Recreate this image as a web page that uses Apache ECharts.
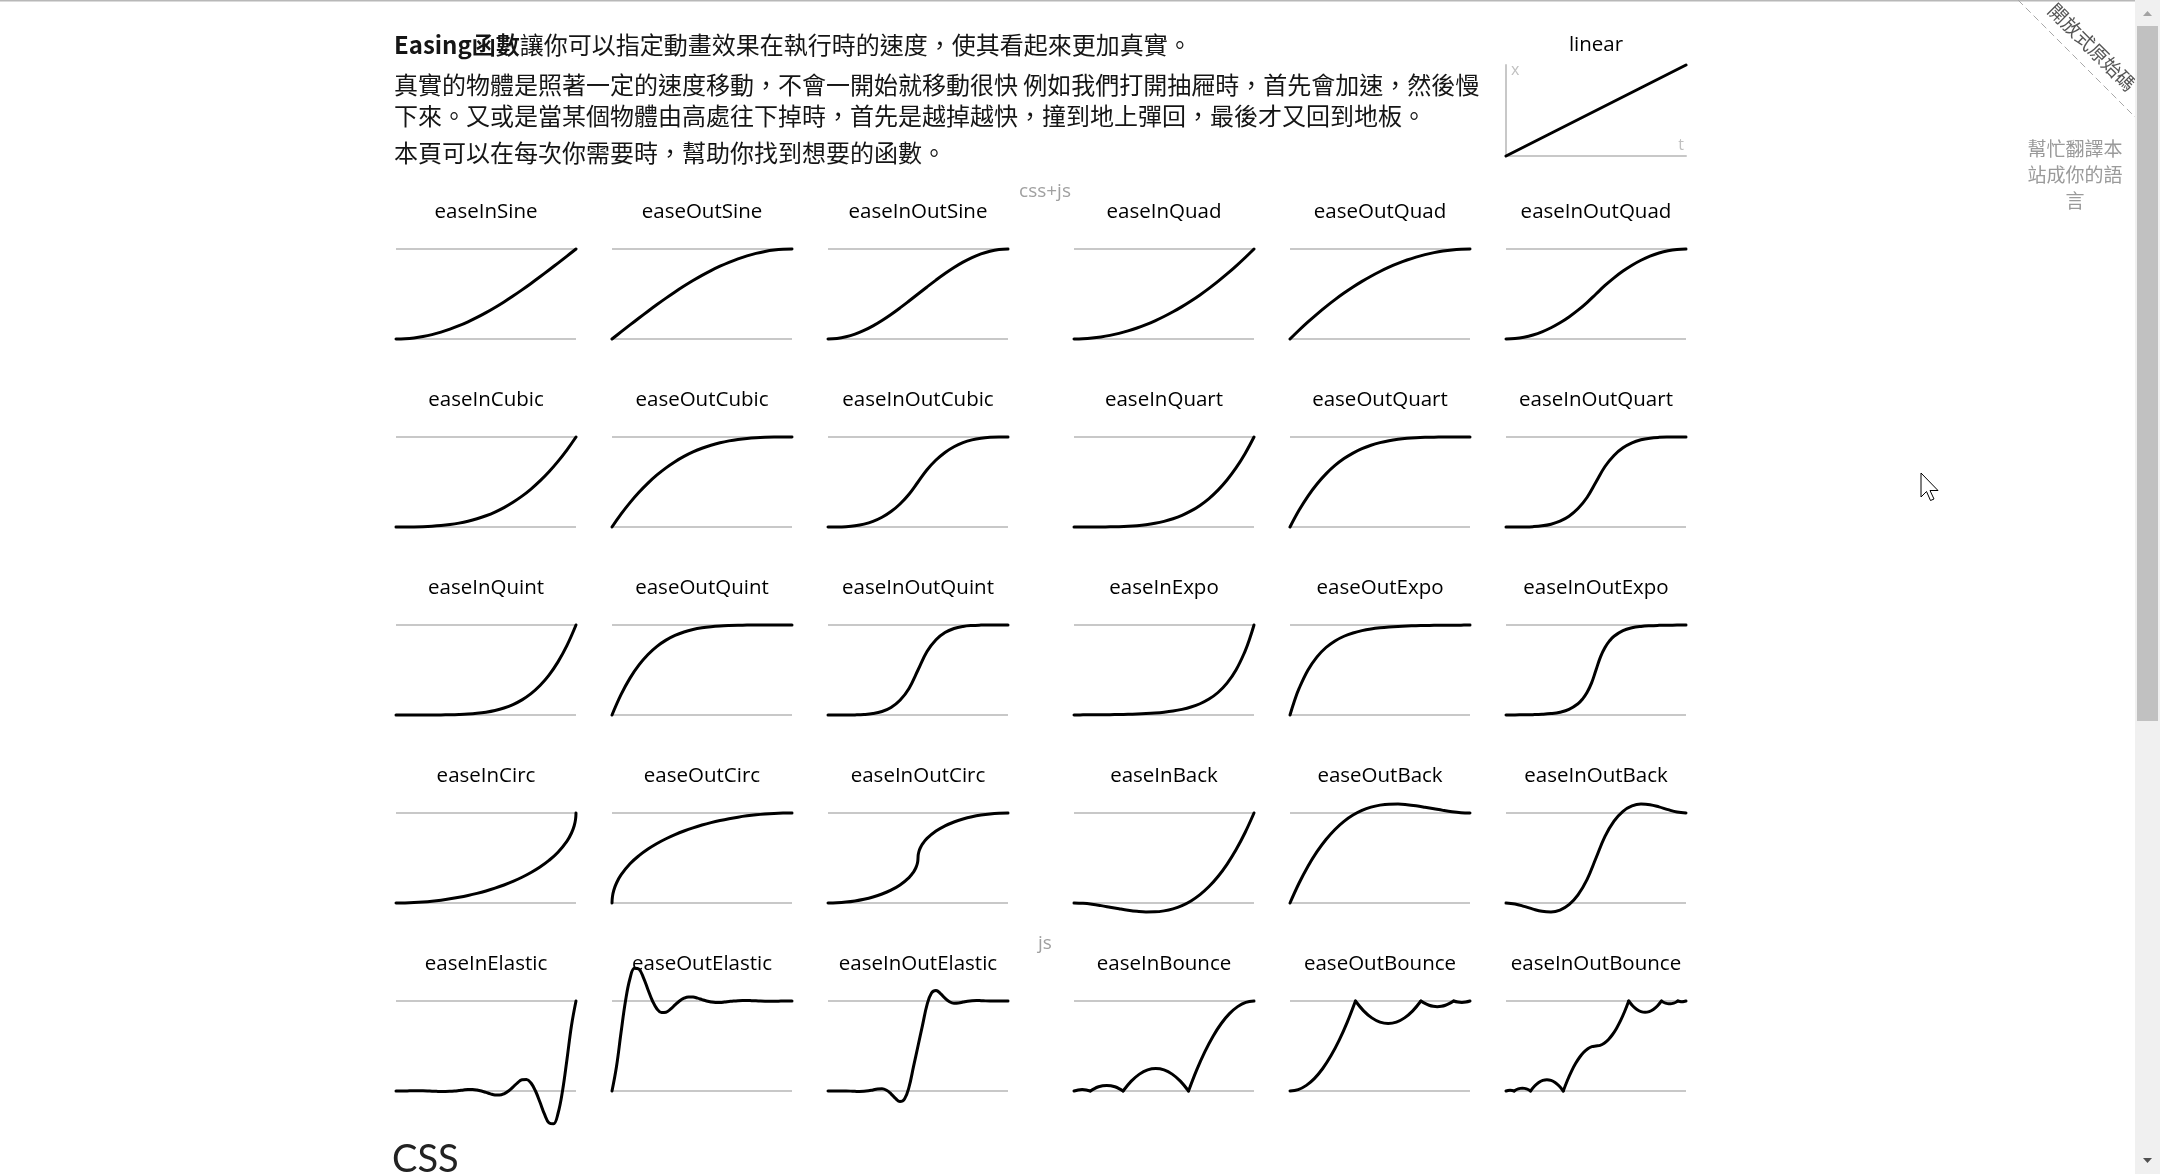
<!DOCTYPE html>
<html>
<head>
<meta charset="utf-8">
<script src="https://cdn.jsdelivr.net/npm/echarts@6/dist/echarts.min.js"></script>
<style>
html,body{margin:0;padding:0;background:#fff;overflow:hidden}
#main{width:2160px;height:1174px}
</style>
</head>
<body>
<div id="main"></div>
<script>
// ---------------- DATA ----------------
const T21 = [0,0.05,0.1,0.15,0.2,0.25,0.3,0.35,0.4,0.45,0.5,0.55,0.6,0.65,0.7,0.75,0.8,0.85,0.9,0.95,1];
const T41 = [0,0.025,0.05,0.075,0.1,0.125,0.15,0.175,0.2,0.225,0.25,0.275,0.3,0.325,0.35,0.375,0.4,0.425,0.45,0.475,0.5,0.525,0.55,0.575,0.6,0.625,0.65,0.675,0.7,0.725,0.75,0.775,0.8,0.825,0.85,0.875,0.9,0.925,0.95,0.975,1];

const linearT = [0,1];
const linear = [0,1];

const easeInSine = [0,0.0031,0.0123,0.0276,0.0489,0.0761,0.109,0.1474,0.191,0.2396,0.2929,0.3506,0.4122,0.4775,0.546,0.6173,0.691,0.7666,0.8436,0.9215,1];
const easeOutSine = [0,0.0785,0.1564,0.2334,0.309,0.3827,0.454,0.5225,0.5878,0.6494,0.7071,0.7604,0.809,0.8526,0.891,0.9239,0.9511,0.9724,0.9877,0.9969,1];
const easeInOutSine = [0,0.0062,0.0245,0.0545,0.0955,0.1464,0.2061,0.273,0.3455,0.4218,0.5,0.5782,0.6545,0.727,0.7939,0.8536,0.9045,0.9455,0.9755,0.9938,1];

const easeInQuad = [0,0.0025,0.01,0.0225,0.04,0.0625,0.09,0.1225,0.16,0.2025,0.25,0.3025,0.36,0.4225,0.49,0.5625,0.64,0.7225,0.81,0.9025,1];
const easeOutQuad = [0,0.0975,0.19,0.2775,0.36,0.4375,0.51,0.5775,0.64,0.6975,0.75,0.7975,0.84,0.8775,0.91,0.9375,0.96,0.9775,0.99,0.9975,1];
const easeInOutQuad = [0,0.005,0.02,0.045,0.08,0.125,0.18,0.245,0.32,0.405,0.5,0.595,0.68,0.755,0.82,0.875,0.92,0.955,0.98,0.995,1];

const easeInCubic = [0,0.0001,0.001,0.0034,0.008,0.0156,0.027,0.0429,0.064,0.0911,0.125,0.1664,0.216,0.2746,0.343,0.4219,0.512,0.6141,0.729,0.8574,1];
const easeOutCubic = [0,0.1426,0.271,0.3859,0.488,0.5781,0.657,0.7254,0.784,0.8336,0.875,0.9089,0.936,0.9571,0.973,0.9844,0.992,0.9966,0.999,0.9999,1];
const easeInOutCubic = [0,0.0005,0.004,0.0135,0.032,0.0625,0.108,0.1715,0.256,0.3645,0.5,0.6355,0.744,0.8285,0.892,0.9375,0.968,0.9865,0.996,0.9995,1];

const easeInQuart = [0,0,0.0001,0.0005,0.0016,0.0039,0.0081,0.015,0.0256,0.041,0.0625,0.0915,0.1296,0.1785,0.2401,0.3164,0.4096,0.522,0.6561,0.8145,1];
const easeOutQuart = [0,0.1855,0.3439,0.478,0.5904,0.6836,0.7599,0.8215,0.8704,0.9085,0.9375,0.959,0.9744,0.985,0.9919,0.9961,0.9984,0.9995,0.9999,1,1];
const easeInOutQuart = [0,0.0001,0.0008,0.004,0.0128,0.0313,0.0648,0.12,0.2048,0.3281,0.5,0.6719,0.7952,0.88,0.9352,0.9687,0.9872,0.996,0.9992,0.9999,1];

const easeInQuint = [0,0,0,0.0001,0.0003,0.001,0.0024,0.0053,0.0102,0.0185,0.0313,0.0503,0.0778,0.116,0.1681,0.2373,0.3277,0.4437,0.5905,0.7738,1];
const easeOutQuint = [0,0.2262,0.4095,0.5563,0.6723,0.7627,0.8319,0.884,0.9222,0.9497,0.9687,0.9815,0.9898,0.9947,0.9976,0.999,0.9997,0.9999,1,1,1];
const easeInOutQuint = [0,0,0.0002,0.0012,0.0051,0.0156,0.0389,0.084,0.1638,0.2952,0.5,0.7048,0.8362,0.916,0.9611,0.9844,0.9949,0.9988,0.9998,1,1];

const easeInExpoT = [0,0.05,0.1,0.15,0.2,0.25,0.3,0.35,0.4,0.45,0.5,0.55,0.6,0.65,0.7,0.75,0.8,0.85,0.9,0.95,0.975,1];
const easeInExpo = [0,0.0014,0.002,0.0028,0.0039,0.0055,0.0078,0.011,0.0156,0.0221,0.0313,0.0442,0.0625,0.0884,0.125,0.1768,0.25,0.3536,0.5,0.7071,0.8409,1];
const easeOutExpoT = [0,0.025,0.05,0.1,0.15,0.2,0.25,0.3,0.35,0.4,0.45,0.5,0.55,0.6,0.65,0.7,0.75,0.8,0.85,0.9,0.95,1];
const easeOutExpo = [0,0.1591,0.2929,0.5,0.6464,0.75,0.8232,0.875,0.9116,0.9375,0.9558,0.9688,0.9779,0.9844,0.989,0.9922,0.9945,0.9961,0.9972,0.998,0.9986,1];
const easeInOutExpoT = [0,0.05,0.1,0.15,0.2,0.25,0.3,0.35,0.4,0.425,0.45,0.475,0.5,0.525,0.55,0.575,0.6,0.65,0.7,0.75,0.8,0.85,0.9,0.95,1];
const easeInOutExpo = [0,0.001,0.002,0.0039,0.0078,0.0156,0.0313,0.0625,0.125,0.1768,0.25,0.3536,0.5,0.6464,0.75,0.8232,0.875,0.9375,0.9688,0.9844,0.9922,0.9961,0.998,0.999,1];

const easeInCircT = [0,0.05,0.1,0.15,0.2,0.25,0.3,0.35,0.4,0.45,0.5,0.55,0.6,0.65,0.7,0.75,0.8,0.85,0.9,0.95,0.975,0.99,0.9975,1];
const easeInCirc = [0,0.0013,0.005,0.0113,0.0202,0.0318,0.0461,0.0633,0.0835,0.107,0.134,0.1648,0.2,0.2401,0.2859,0.3386,0.4,0.4732,0.5641,0.6878,0.7778,0.8589,0.9293,1];
const easeOutCircT = [0,0.0025,0.01,0.025,0.05,0.1,0.15,0.2,0.25,0.3,0.35,0.4,0.45,0.5,0.55,0.6,0.65,0.7,0.75,0.8,0.85,0.9,0.95,1];
const easeOutCirc = [0,0.0707,0.1411,0.2222,0.3123,0.4359,0.5268,0.6,0.6614,0.7141,0.7599,0.8,0.8352,0.866,0.893,0.9165,0.9367,0.9539,0.9682,0.9798,0.9887,0.995,0.9987,1];
const easeInOutCircT = [0,0.05,0.1,0.15,0.2,0.25,0.3,0.35,0.4,0.45,0.475,0.4875,0.495,0.49875,0.5,0.50125,0.505,0.5125,0.525,0.55,0.6,0.65,0.7,0.75,0.8,0.85,0.9,0.95,1];
const easeInOutCirc = [0,0.0025,0.0101,0.023,0.0417,0.067,0.1,0.1429,0.2,0.2821,0.3439,0.3889,0.4295,0.4647,0.5,0.5353,0.5705,0.6111,0.6561,0.7179,0.8,0.8571,0.9,0.933,0.9583,0.977,0.9899,0.9975,1];

const easeInBack = [0,-0.0039,-0.0143,-0.0292,-0.0465,-0.0641,-0.0802,-0.0926,-0.0994,-0.0984,-0.0877,-0.0653,-0.029,0.023,0.0929,0.1826,0.2942,0.4297,0.5912,0.7806,1];
const easeOutBack = [0,0.2194,0.4088,0.5703,0.7058,0.8174,0.9071,0.977,1.029,1.0653,1.0877,1.0984,1.0994,1.0926,1.0802,1.0641,1.0465,1.0292,1.0143,1.0039,1];
const easeInOutBack = [0,-0.0112,-0.0375,-0.0682,-0.0926,-0.0997,-0.0788,-0.0192,0.0899,0.2594,0.5,0.7406,0.9101,1.0192,1.0788,1.0997,1.0926,1.0682,1.0375,1.0112,1];

const easeInElastic = [0,0,0.0007,0.0014,0.002,0.002,0.0014,0,-0.002,-0.004,-0.0055,-0.0057,-0.0039,0,0.0055,0.0114,0.0156,0.0161,0.011,0,-0.0156,-0.0322,-0.0442,-0.0455,-0.0313,0,0.0442,0.091,0.125,0.1287,0.0884,0,-0.125,-0.2575,-0.3536,-0.3641,-0.25,0,0.3536,0.7282,1];
const easeOutElastic = [0,0.2718,0.6464,1,1.25,1.3641,1.3536,1.2575,1.125,1,0.9116,0.8713,0.875,0.909,0.9558,1,1.0313,1.0455,1.0442,1.0322,1.0156,1,0.989,0.9839,0.9844,0.9886,0.9945,1,1.0039,1.0057,1.0055,1.004,1.002,1,0.9986,0.998,0.998,0.9986,0.9993,1,1];
const easeInOutElastic = [0,0.0005,0.001,0.0011,0.0003,-0.0014,-0.0037,-0.0052,-0.0039,0.0019,0.012,0.0221,0.0239,0.0077,-0.0313,-0.0831,-0.1175,-0.0884,0.0434,0.2708,0.5,0.7292,0.9566,1.0884,1.1175,1.0831,1.0313,0.9923,0.9761,0.9779,0.988,0.9981,1.0039,1.0052,1.0037,1.0014,0.9997,0.9989,0.999,0.9995,1];

const easeInBounceT = [0,0.02273,0.04545,0.06818,0.09091,0.11364,0.13636,0.15909,0.18182,0.20455,0.22727,0.25,0.27273,0.31818,0.36364,0.40909,0.45455,0.5,0.54545,0.59091,0.63636,0.68182,0.72727,0.77273,0.81818,0.86364,0.90909,0.95455,1];
const easeInBounce = [0,0.0117,0.0156,0.0117,0,0.0273,0.0469,0.0586,0.0625,0.0586,0.0469,0.0273,0,0.1094,0.1875,0.2344,0.25,0.2344,0.1875,0.1094,0,0.2344,0.4375,0.6094,0.75,0.8594,0.9375,0.9844,1];
const easeInBounceCusps = [4,12,20];
const easeOutBounceT = [0,0.04545,0.09091,0.13636,0.18182,0.22727,0.27273,0.31818,0.36364,0.40909,0.45455,0.5,0.54545,0.59091,0.63636,0.68182,0.72727,0.75,0.77273,0.79545,0.81818,0.84091,0.86364,0.88636,0.90909,0.93182,0.95455,0.97727,1];
const easeOutBounce = [0,0.0156,0.0625,0.1406,0.25,0.3906,0.5625,0.7656,1,0.8906,0.8125,0.7656,0.75,0.7656,0.8125,0.8906,1,0.9727,0.9531,0.9414,0.9375,0.9414,0.9531,0.9727,1,0.9883,0.9844,0.9883,1];
const easeOutBounceCusps = [8,16,24];
const easeInOutBounceT = [0,0.01136,0.02273,0.03409,0.04545,0.05682,0.06818,0.07955,0.09091,0.10227,0.11364,0.125,0.13636,0.15909,0.18182,0.20455,0.22727,0.25,0.27273,0.29545,0.31818,0.34091,0.36364,0.38636,0.40909,0.43182,0.45455,0.47727,0.5,0.52273,0.54545,0.56818,0.59091,0.61364,0.63636,0.65909,0.68182,0.70455,0.72727,0.75,0.77273,0.79545,0.81818,0.84091,0.86364,0.875,0.88636,0.89773,0.90909,0.92045,0.93182,0.94318,0.95455,0.96591,0.97727,0.98864,1];
const easeInOutBounce = [0,0.0059,0.0078,0.0059,0,0.0137,0.0234,0.0293,0.0313,0.0293,0.0234,0.0137,0,0.0547,0.0938,0.1172,0.125,0.1172,0.0938,0.0547,0,0.1172,0.2188,0.3047,0.375,0.4297,0.4688,0.4922,0.5,0.5078,0.5313,0.5703,0.625,0.6953,0.7813,0.8828,1,0.9453,0.9063,0.8828,0.875,0.8828,0.9063,0.9453,1,0.9863,0.9766,0.9707,0.9688,0.9707,0.9766,0.9863,1,0.9941,0.9922,0.9941,1];
const easeInOutBounceCusps = [4,12,20,36,44,52];

const chartNames = [
  'easeInSine','easeOutSine','easeInOutSine','easeInQuad','easeOutQuad','easeInOutQuad',
  'easeInCubic','easeOutCubic','easeInOutCubic','easeInQuart','easeOutQuart','easeInOutQuart',
  'easeInQuint','easeOutQuint','easeInOutQuint','easeInExpo','easeOutExpo','easeInOutExpo',
  'easeInCirc','easeOutCirc','easeInOutCirc','easeInBack','easeOutBack','easeInOutBack',
  'easeInElastic','easeOutElastic','easeInOutElastic','easeInBounce','easeOutBounce','easeInOutBounce'
];
const chartT = [
  T21,T21,T21,T21,T21,T21,
  T21,T21,T21,T21,T21,T21,
  T21,T21,T21,easeInExpoT,easeOutExpoT,easeInOutExpoT,
  easeInCircT,easeOutCircT,easeInOutCircT,T21,T21,T21,
  T41,T41,T41,easeInBounceT,easeOutBounceT,easeInOutBounceT
];
const chartV = [
  easeInSine,easeOutSine,easeInOutSine,easeInQuad,easeOutQuad,easeInOutQuad,
  easeInCubic,easeOutCubic,easeInOutCubic,easeInQuart,easeOutQuart,easeInOutQuart,
  easeInQuint,easeOutQuint,easeInOutQuint,easeInExpo,easeOutExpo,easeInOutExpo,
  easeInCirc,easeOutCirc,easeInOutCirc,easeInBack,easeOutBack,easeInOutBack,
  easeInElastic,easeOutElastic,easeInOutElastic,easeInBounce,easeOutBounce,easeInOutBounce
];
const chartCusps = {27: easeInBounceCusps, 28: easeOutBounceCusps, 29: easeInOutBounceCusps};

// ---------------- LAYOUT ----------------
const COL_LEFT = [396, 612, 828, 1074, 1290, 1506];
const ROW_TOP = [249, 437, 625, 813, 1001];
const CW = 180, CH = 90;
const LIN = {left: 1506, top: 65, width: 180, height: 91};

const FONT_UI = "'Open Sans', 'Noto Sans', sans-serif";
const FONT_CJK = "'Noto Sans CJK TC', 'Noto Sans CJK SC', sans-serif";
const GRID_GRAY = '#c8c8c8';

function segments(t, v, cusps) {
  const segs = []; let cur = [];
  for (let i = 0; i < t.length; i++) {
    cur.push([t[i], v[i]]);
    if (cusps && cusps.indexOf(i) >= 0) { segs.push(cur); cur = [[t[i], v[i]]]; }
  }
  if (cur.length > 1) segs.push(cur);
  return segs;
}

const grids = [], xAxes = [], yAxes = [], series = [], graphics = [];

chartNames.forEach((name, i) => {
  const r = Math.floor(i / 6), c = i % 6;
  const left = COL_LEFT[c], top = ROW_TOP[r];
  grids.push({left: left, top: top, width: CW, height: CH, containLabel: false});
  xAxes.push({gridIndex: i, type: 'value', min: 0, max: 1, show: false});
  yAxes.push({gridIndex: i, type: 'value', min: 0, max: 1, interval: 1,
    axisLine: {show: false}, axisTick: {show: false}, axisLabel: {show: false},
    splitLine: {show: true, lineStyle: {color: GRID_GRAY, width: 2}}});
  const segs = segments(chartT[i], chartV[i], chartCusps[i]);
  segs.forEach(seg => {
    series.push({type: 'line', xAxisIndex: i, yAxisIndex: i, data: seg,
      smooth: 0.4, symbol: 'none', showSymbol: false, clip: false, silent: true,
      lineStyle: {color: '#000', width: 3, cap: 'round', join: 'round'}});
  });
  graphics.push({type: 'text', x: left + CW / 2, y: top - 37, silent: true,
    style: {text: name, fontFamily: FONT_UI, fontSize: 20.5, fill: '#000',
      textAlign: 'center', verticalAlign: 'middle', textVerticalAlign: 'middle'}});
});

// linear chart
const li = chartNames.length;
grids.push({left: LIN.left, top: LIN.top, width: LIN.width, height: LIN.height, containLabel: false});
xAxes.push({gridIndex: li, type: 'value', min: 0, max: 1, axisLine: {show: true, lineStyle: {color: GRID_GRAY, width: 2}},
  axisTick: {show: false}, axisLabel: {show: false}, splitLine: {show: false}});
yAxes.push({gridIndex: li, type: 'value', min: 0, max: 1, axisLine: {show: true, lineStyle: {color: GRID_GRAY, width: 2}},
  axisTick: {show: false}, axisLabel: {show: false}, splitLine: {show: false}});
series.push({type: 'line', xAxisIndex: li, yAxisIndex: li, data: linearT.map((t, k) => [t, linear[k]]),
  symbol: 'none', showSymbol: false, clip: false, silent: true,
  lineStyle: {color: '#000', width: 3, cap: 'round'}});
graphics.push({type: 'text', x: LIN.left + LIN.width / 2, y: 45, style: {text: 'linear', fontFamily: FONT_UI, fontSize: 20.5, fill: '#000', textAlign: 'center', verticalAlign: 'middle', textVerticalAlign: 'middle'}});
graphics.push({type: 'text', x: LIN.left + 5, y: LIN.top + 5, style: {text: 'x', fontFamily: FONT_UI, fontSize: 16, fill: '#c0c0c0', textAlign: 'left', verticalAlign: 'middle', textVerticalAlign: 'middle'}});
graphics.push({type: 'text', x: LIN.left + LIN.width - 2, y: LIN.top + LIN.height - 11, style: {text: 't', fontFamily: FONT_UI, fontSize: 16, fill: '#c0c0c0', textAlign: 'right', verticalAlign: 'middle', textVerticalAlign: 'middle'}});

// page text
const TXT = '#151515';
graphics.push({type: 'rect', shape: {x: 0, y: 0, width: 2135, height: 1.5}, style: {fill: '#b8b8b8'}, silent: true});
graphics.push({type: 'text', x: 394, y: 45, style: {
  text: '{b|Easing函數}讓你可以指定動畫效果在執行時的速度，使其看起來更加真實。',
  rich: {b: {fontWeight: 'bold', fontSize: 24, fontFamily: FONT_CJK, fill: TXT}},
  fontFamily: FONT_CJK, fontSize: 24, fill: TXT, textAlign: 'left', verticalAlign: 'middle', textVerticalAlign: 'middle'}});
[['真實的物體是照著一定的速度移動，不會一開始就移動很快 例如我們打開抽屜時，首先會加速，然後慢', 85],
 ['下來。又或是當某個物體由高處往下掉時，首先是越掉越快，撞到地上彈回，最後才又回到地板。', 116],
 ['本頁可以在每次你需要時，幫助你找到想要的函數。', 153]].forEach(([s, y]) => {
  graphics.push({type: 'text', x: 394, y: y, style: {text: s, fontFamily: FONT_CJK, fontSize: 24, fill: TXT,
    textAlign: 'left', verticalAlign: 'middle', textVerticalAlign: 'middle'}});
});
graphics.push({type: 'text', x: 1045, y: 192, style: {text: 'css+js', fontFamily: FONT_UI, fontSize: 19, fill: '#a0a0a0', textAlign: 'center', verticalAlign: 'middle', textVerticalAlign: 'middle'}});
graphics.push({type: 'text', x: 1045, y: 944, style: {text: 'js', fontFamily: FONT_UI, fontSize: 19, fill: '#a0a0a0', textAlign: 'center', verticalAlign: 'middle', textVerticalAlign: 'middle'}});
graphics.push({type: 'text', x: 392, y: 1141, style: {text: 'CSS', fontFamily: "Lato, 'Open Sans', sans-serif", fontSize: 38, fill: '#222', textAlign: 'left', verticalAlign: 'top', textVerticalAlign: 'top'}});

// translate link
[['幫忙翻譯本', 149], ['站成你的語', 175], ['言', 201]].forEach(([s, y]) => {
  graphics.push({type: 'text', x: 2075, y: y, style: {text: s, fontFamily: FONT_CJK, fontSize: 19, fill: '#9a9a9a', textAlign: 'center', verticalAlign: 'middle', textVerticalAlign: 'middle'}});
});
// ribbon
graphics.push({type: 'line', shape: {x1: 2018, y1: 0, x2: 2135, y2: 117}, style: {stroke: '#a8a8a8', lineWidth: 1, lineDash: [7, 4]}, silent: true});
graphics.push({type: 'text', x: 2092, y: 47, rotation: -Math.PI / 4, style: {text: '開放式原始碼', fontFamily: FONT_CJK, fontSize: 19, fill: '#555', textAlign: 'center', verticalAlign: 'middle', textVerticalAlign: 'middle'}});

// scrollbar
graphics.push({type: 'rect', z: 50, shape: {x: 2135, y: 0, width: 25, height: 1174}, style: {fill: '#f0f0f0'}, silent: true});
graphics.push({type: 'rect', z: 51, shape: {x: 2137, y: 26, width: 21, height: 695}, style: {fill: '#c1c1c1'}, silent: true});
graphics.push({type: 'polygon', z: 51, shape: {points: [[2143, 16], [2147.5, 11], [2152, 16]]}, style: {fill: '#a3a3a3'}, silent: true});
graphics.push({type: 'polygon', z: 51, shape: {points: [[2143, 1158], [2152, 1158], [2147.5, 1163]]}, style: {fill: '#505050'}, silent: true});

// mouse cursor
graphics.push({type: 'polygon', z: 60, shape: {points: [[0,0],[0,24],[5.5,18.5],[9.5,27.5],[13,26],[9,17.5],[17,17.5]].map(p => [p[0] + 1921, p[1] + 473])},
  style: {fill: '#fff', stroke: '#000', lineWidth: 1}, silent: true});

const chart = echarts.init(document.getElementById('main'), null, {renderer: 'canvas', width: 2160, height: 1174});
chart.setOption({
  animation: false,
  backgroundColor: '#fff',
  grid: grids,
  xAxis: xAxes,
  yAxis: yAxes,
  series: series,
  graphic: {elements: graphics}
});
</script>
</body>
</html>
